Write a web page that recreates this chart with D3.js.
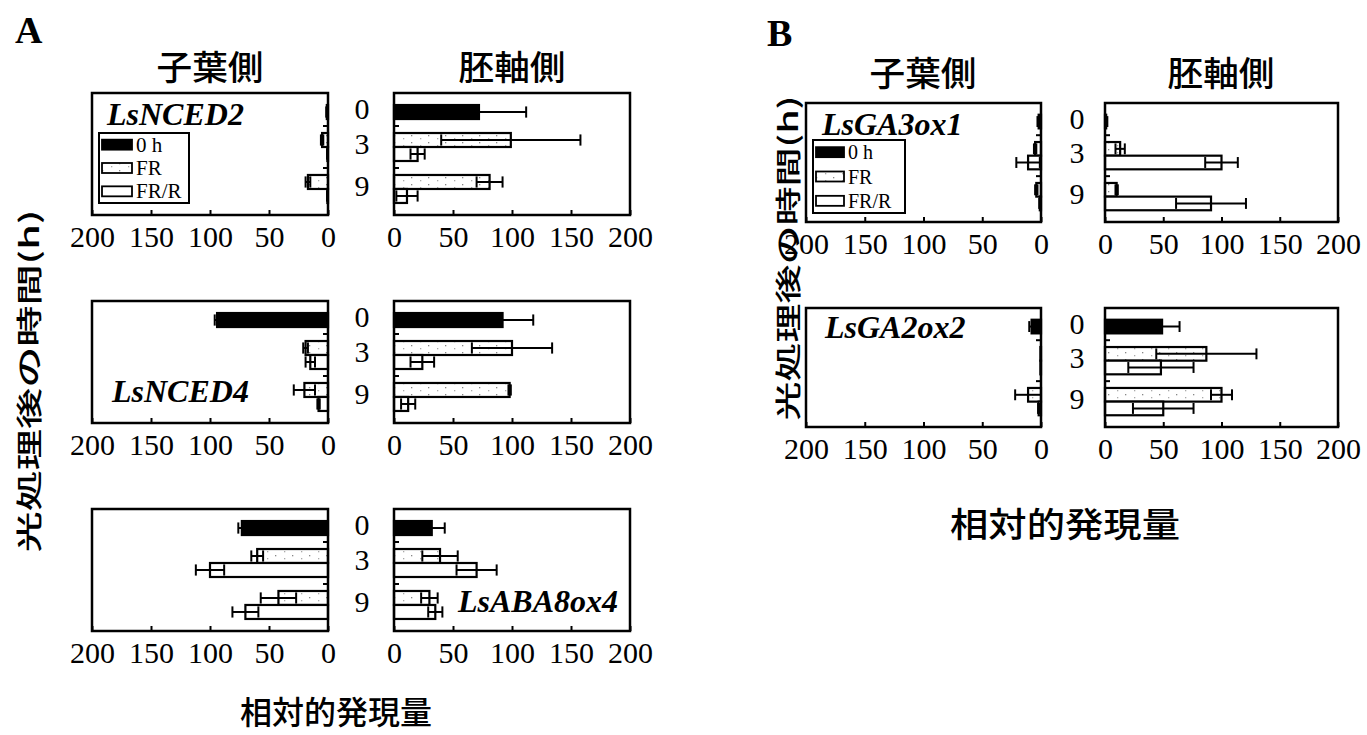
<!DOCTYPE html>
<html>
<head>
<meta charset="utf-8">
<script src="https://cdn.jsdelivr.net/npm/d3@7"></script>
<style>
  body { margin: 0; background: #fff; }
</style>
</head>
<body>
<div class="chart"></div>
<script>
// ---- data ----
var times = ["0", "3", "9"];
var treatments = ["0 h", "FR", "FR/R"];
var sides = ["子葉側", "胚軸側"];
var tickValues = [0, 50, 100, 150, 200];
var xTitle = "相対的発現量";
var yTitle = "光処理後の時間(h)";

// order of the bars in every box: [time, treatment]
var barKeys = [["0", "0 h"], ["3", "FR"], ["3", "FR/R"], ["9", "FR"], ["9", "FR/R"]];

// panel A
var nced2Cot = [1, 5, 0.5, 17, 0.5];
var nced2CotErr = [0.5, 1, 0.3, 2, 0.3];
var nced2Hyp = [72, 99, 20, 81, 11];
var nced2HypErr = [40, 59, 6, 11, 9];

var nced4Cot = [94, 19, 15, 20, 8];
var nced4CotErr = [2, 2, 4, 9, 1];
var nced4Hyp = [92, 100, 24, 98, 12];
var nced4HypErr = [26, 34, 10, 1, 6];

var aba8Cot = [73, 60, 100, 42, 70];
var aba8CotErr = [3, 5, 12, 15, 11];
var aba8Hyp = [32, 39, 70, 30, 35];
var aba8HypErr = [11, 15, 17, 7, 6];

// panel B
var ga3Cot = [2, 5, 11, 4, 1];
var ga3CotErr = [1, 1, 10, 1, 0.5];
var ga3Hyp = [1, 13, 100, 10, 91];
var ga3HypErr = [1, 4, 14, 1, 30];

var ga2Cot = [8, 0.5, 0.5, 11, 2];
var ga2CotErr = [2, 0, 0, 11, 0.5];
var ga2Hyp = [49, 87, 48, 100, 50];
var ga2HypErr = [15, 43, 28, 9, 26];

// ---- svg ----
var svgWidth = 1367;
var svgHeight = 735;

var svg = d3.select(".chart")
  .append("svg")
  .attr("width", svgWidth)
  .attr("height", svgHeight);

var serif = "'Liberation Serif', 'Times New Roman', serif";
var cjk = "'Noto Sans CJK JP', sans-serif";

// sparse stipple for the FR bars
var defs = svg.append("defs");
var pat = defs.append("pattern")
  .attr("id", "dots")
  .attr("patternUnits", "userSpaceOnUse")
  .attr("width", 17)
  .attr("height", 7);
pat.append("rect").attr("width", 17).attr("height", 7).attr("fill", "#fff");
pat.append("rect").attr("x", 3).attr("y", 2).attr("width", 1.3).attr("height", 1.3).attr("fill", "#888");
pat.append("rect").attr("x", 12).attr("y", 5).attr("width", 1.3).attr("height", 1.3).attr("fill", "#aaa");

var fills = { "0 h": "#000", "FR": "url(#dots)", "FR/R": "#fff" };

// slots top to bottom; the empty ones separate the time groups
var slots = ["0|0 h", "gapA", "3|FR", "3|FR/R", "gapB", "9|FR", "9|FR/R"];

function drawBox(x0, x1, y0, h, vals, errs, reversed) {
  var g = svg.append("g");

  var x = d3.scaleLinear()
    .domain(reversed ? [200, 0] : [0, 200])
    .range([x0, x1]);

  var y = d3.scaleBand()
    .domain(slots)
    .range([y0, y0 + h])
    .paddingInner(0)
    .paddingOuter(0.86);

  var rows = barKeys.map(function(k, i) {
    return { key: k[0] + "|" + k[1], trt: k[1], v: vals[i], e: errs[i] };
  });

  g.selectAll("rect.bar")
    .data(rows)
    .enter()
    .append("rect")
    .attr("class", "bar")
    .attr("x", d => Math.min(x(0), x(d.v)))
    .attr("y", d => y(d.key))
    .attr("width", d => Math.abs(x(d.v) - x(0)))
    .attr("height", y.bandwidth())
    .attr("fill", d => fills[d.trt])
    .attr("stroke", "#000")
    .attr("stroke-width", 2.2);

  // error bars, both directions like the original
  var eb = g.selectAll("g.err")
    .data(rows.filter(d => d.e > 0))
    .enter()
    .append("g")
    .attr("class", "err");

  var capH = y.bandwidth() * 0.8;
  eb.append("line")
    .attr("x1", d => x(d.v - d.e))
    .attr("x2", d => x(d.v + d.e))
    .attr("y1", d => y(d.key) + y.bandwidth() / 2)
    .attr("y2", d => y(d.key) + y.bandwidth() / 2)
    .attr("stroke", "#000")
    .attr("stroke-width", 2);
  [-1, 1].forEach(function(s) {
    eb.append("line")
      .attr("x1", d => x(d.v + s * d.e))
      .attr("x2", d => x(d.v + s * d.e))
      .attr("y1", d => y(d.key) + y.bandwidth() / 2 - capH / 2)
      .attr("y2", d => y(d.key) + y.bandwidth() / 2 + capH / 2)
      .attr("stroke", "#000")
      .attr("stroke-width", 2);
  });

  // small inward ticks on the zero edge between the time groups
  g.selectAll("line.gtick")
    .data(["gapA", "gapB"])
    .enter()
    .append("line")
    .attr("x1", x(0))
    .attr("x2", x(0) + (reversed ? -5 : 5))
    .attr("y1", d => y(d) + y.bandwidth() / 2)
    .attr("y2", d => y(d) + y.bandwidth() / 2)
    .attr("stroke", "#000")
    .attr("stroke-width", 2);

  // bottom axis
  var axis = g.append("g")
    .attr("transform", `translate(0, ${y0 + h})`)
    .call(d3.axisBottom(x).tickValues(tickValues).tickSize(-5).tickPadding(11));
  axis.select(".domain").remove();
  axis.selectAll("line").attr("stroke-width", 2);
  axis.selectAll("text")
    .attr("font-family", serif)
    .attr("font-size", "30px")
    .attr("fill", "#000");

  // frame
  g.append("rect")
    .attr("x", x0)
    .attr("y", y0)
    .attr("width", x1 - x0)
    .attr("height", h)
    .attr("fill", "none")
    .attr("stroke", "#000")
    .attr("stroke-width", 2.5);

  return y;
}

function timeLabels(cx, y) {
  times.forEach(function(t) {
    var keys = barKeys.filter(k => k[0] === t).map(k => k[0] + "|" + k[1]);
    var cy = d3.mean(keys, k => y(k) + y.bandwidth() / 2);
    svg.append("text")
      .attr("x", cx)
      .attr("y", cy + 7)
      .attr("text-anchor", "middle")
      .attr("font-family", serif)
      .attr("font-size", "30px")
      .text(t);
  });
}

function geneLabel(x, y, name) {
  svg.append("text")
    .attr("x", x)
    .attr("y", y)
    .attr("font-family", serif)
    .attr("font-style", "italic")
    .attr("font-weight", "bold")
    .attr("font-size", "32px")
    .text(name);
}

function legend(x, y, w, h, sw, fs) {
  var g = svg.append("g").attr("transform", `translate(${x}, ${y})`);
  g.append("rect")
    .attr("width", w).attr("height", h)
    .attr("fill", "#fff").attr("stroke", "#000").attr("stroke-width", 2);
  var step = h / 3;
  treatments.forEach(function(t, i) {
    g.append("rect")
      .attr("x", 3).attr("y", step * i + step / 2 - 5)
      .attr("width", sw).attr("height", 10)
      .attr("fill", fills[t]).attr("stroke", "#000").attr("stroke-width", 1.8);
    g.append("text")
      .attr("x", sw + 7).attr("y", step * i + step / 2 + 7)
      .attr("font-family", serif)
      .attr("font-size", fs + "px")
      .text(t);
  });
}

function cjkText(x, y, txt, size, len, rotate) {
  var t = svg.append("text")
    .attr("x", 0)
    .attr("y", 0)
    .attr("text-anchor", "middle")
    .attr("dominant-baseline", "central")
    .attr("font-family", cjk)
    .attr("font-weight", 500)
    .attr("font-size", size + "px")
    .attr("textLength", len)
    .attr("lengthAdjust", "spacingAndGlyphs")
    .attr("transform", `translate(${x}, ${y})` + (rotate ? " rotate(-90)" : ""))
    .text(txt);
  return t;
}

// ---- panel A ----
var aLeft = [92, 328], aRight = [394, 630];
var aRows = [93, 301, 509], aH = 122;
var aCot = [[nced2Cot, nced2CotErr], [nced4Cot, nced4CotErr], [aba8Cot, aba8CotErr]];
var aHyp = [[nced2Hyp, nced2HypErr], [nced4Hyp, nced4HypErr], [aba8Hyp, aba8HypErr]];

aRows.forEach(function(top, i) {
  drawBox(aLeft[0], aLeft[1], top, aH, aCot[i][0], aCot[i][1], true);
  var y = drawBox(aRight[0], aRight[1], top, aH, aHyp[i][0], aHyp[i][1], false);
  timeLabels(362, y);
});

legend(99, 133, 90, 70, 30, 21);
geneLabel(107, 125, "LsNCED2");
geneLabel(112, 402, "LsNCED4");
geneLabel(458, 612, "LsABA8ox4");

svg.append("text")
  .attr("x", 15).attr("y", 43)
  .attr("font-family", serif).attr("font-weight", "bold").attr("font-size", "38px")
  .text("A");

cjkText(210, 65, sides[0], 34, 107, false);
cjkText(512, 65, sides[1], 34, 107, false);
cjkText(27, 381, yTitle, 26, 343, true);
cjkText(336, 710, xTitle, 32, 192, false);

// ---- panel B ----
var bLeft = [806, 1041], bRight = [1105, 1338];
var bRows = [103, 308], bH = 119;
var bCot = [[ga3Cot, ga3CotErr], [ga2Cot, ga2CotErr]];
var bHyp = [[ga3Hyp, ga3HypErr], [ga2Hyp, ga2HypErr]];

bRows.forEach(function(top, i) {
  drawBox(bLeft[0], bLeft[1], top, bH, bCot[i][0], bCot[i][1], true);
  var y = drawBox(bRight[0], bRight[1], top, bH, bHyp[i][0], bHyp[i][1], false);
  timeLabels(1077, y);
});

legend(813, 140, 92, 73, 28, 20);
geneLabel(822, 135, "LsGA3ox1");
geneLabel(825, 338, "LsGA2ox2");

svg.append("text")
  .attr("x", 767).attr("y", 46)
  .attr("font-family", serif).attr("font-weight", "bold").attr("font-size", "38px")
  .text("B");

cjkText(923, 71, sides[0], 34, 107, false);
cjkText(1221, 71, sides[1], 34, 107, false);
cjkText(786, 258, yTitle, 26, 325, true);
cjkText(1065, 522, xTitle, 34, 230, false);
</script>
</body>
</html>
